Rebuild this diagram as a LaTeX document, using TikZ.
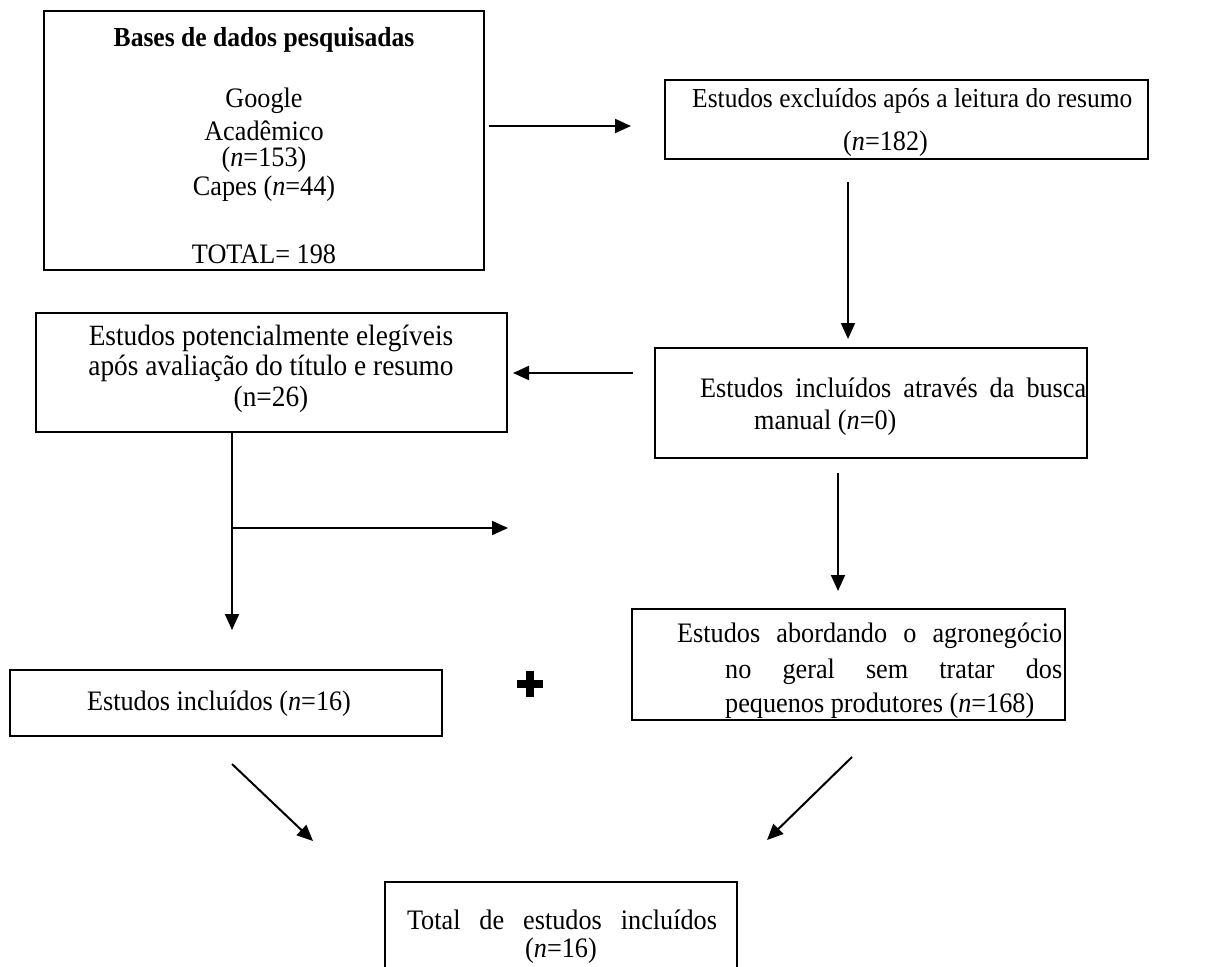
\documentclass[tikz,border=0pt]{standalone}
\usepackage{fontspec}
\setmainfont{Liberation Serif}[FakeStretch=0.93]
\usetikzlibrary{arrows.meta}
\begin{document}
\begin{tikzpicture}[x=1pt,y=-1pt,
  font=\fontsize{28.2}{31}\selectfont,
  box/.style={draw, line width=1.6pt, inner sep=0pt, rectangle},
  txt/.style={inner sep=0pt},
  ltxt/.style={inner sep=0pt, anchor=west},
  bigtxt/.style={inner sep=0pt, font=\fontsize{29.4}{32}\selectfont},
  arr/.style={line width=2pt, -{Triangle[length=16pt,width=14pt]}}]
\useasboundingbox[fill=white] (0,0) rectangle (1217,966);

% boxes
\node[box, minimum width=440, minimum height=259] (b1) at (264,140.5) {};
\node[box, minimum width=483, minimum height=79] (b2) at (906.5,119.5) {};
\node[box, minimum width=432, minimum height=110] (b3) at (871,403) {};
\node[box, minimum width=471, minimum height=119] (b4) at (271.5,372.5) {};
\node[box, minimum width=432, minimum height=66] (b5) at (226,703) {};
\node[box, minimum width=433, minimum height=111] (b6) at (848.5,664.5) {};
\node[box, minimum width=352, minimum height=128] (b7) at (561,946) {};

% texts box 1
\node[txt] (t1a) at (264,40) {\fontsize{27.5}{30}\selectfont\textbf{Bases de dados pesquisadas}};
\node[txt] (t1b) at (264,101) {Google};
\node[txt] (t1c) at (264,131) {Acadêmico};
\node[txt] (t1d) at (264,160) {(\textit{n}=153)};
\node[txt] (t1e) at (264,189) {Capes (\textit{n}=44)};
\node[txt] (t1f) at (264,254) {TOTAL= 198};

% box 2
\node[ltxt] (t2a) at (692,101) {\fontsize{27.4}{30}\selectfont Estudos excluídos após a leitura do resumo};
\node[ltxt] (t2b) at (843,144) {(\textit{n}=182)};

% box 3
\node[ltxt] (t3a) at (700,388) {\makebox[386pt][s]{Estudos incluídos através da busca}};
\node[ltxt] (t3b) at (754,423) {manual (\textit{n}=0)};

% box 4
\node[bigtxt] (t4a) at (271,338) {Estudos potencialmente elegíveis};
\node[bigtxt] (t4b) at (271,368) {após avaliação do título e resumo};
\node[bigtxt] (t4c) at (271,399) {(n=26)};

% box 5
\node[txt] (t5) at (219,704) {Estudos incluídos (\textit{n}=16)};

% box 6
\node[ltxt] (t6a) at (677,636) {\makebox[385pt][s]{Estudos abordando o agronegócio}};
\node[ltxt] (t6b) at (725,672) {\makebox[337pt][s]{no geral sem tratar dos}};
\node[ltxt] (t6c) at (725,706) {pequenos produtores (\textit{n}=168)};

% box 7
\node[txt] (t7a) at (562,920) {\makebox[310pt][s]{Total de estudos incluídos}};
\node[txt] (t7b) at (561,951) {(\textit{n}=16)};

% plus sign
\fill (526,671) rectangle (534,697);
\fill (517,680) rectangle (543,688);

% connector end points
\coordinate (a1s) at (489,126);  \coordinate (a1e) at (631,126);
\coordinate (a2s) at (848,182);  \coordinate (a2e) at (848,339);
\coordinate (a3s) at (633,373);  \coordinate (a3e) at (513,373);
\coordinate (a4e) at (232,630);
\coordinate (a5s) at (232,528);  \coordinate (a5e) at (508,528);
\coordinate (a6s) at (838,473);  \coordinate (a6e) at (838,591);
\coordinate (a7s) at (232,764);  \coordinate (a7e) at (313,841);
\coordinate (a8s) at (852,757);  \coordinate (a8e) at (767,840);

\draw[arr] (a1s) -- (a1e);
\draw[arr] (a2s) -- (a2e);
\draw[arr] (a3s) -- (a3e);
\draw[arr] (b4.south -| a4e) -- (a4e);
\draw[arr] (a5s) -- (a5e);
\draw[arr] (a6s) -- (a6e);
\draw[arr] (a7s) -- (a7e);
\draw[arr] (a8s) -- (a8e);
\end{tikzpicture}
\end{document}
